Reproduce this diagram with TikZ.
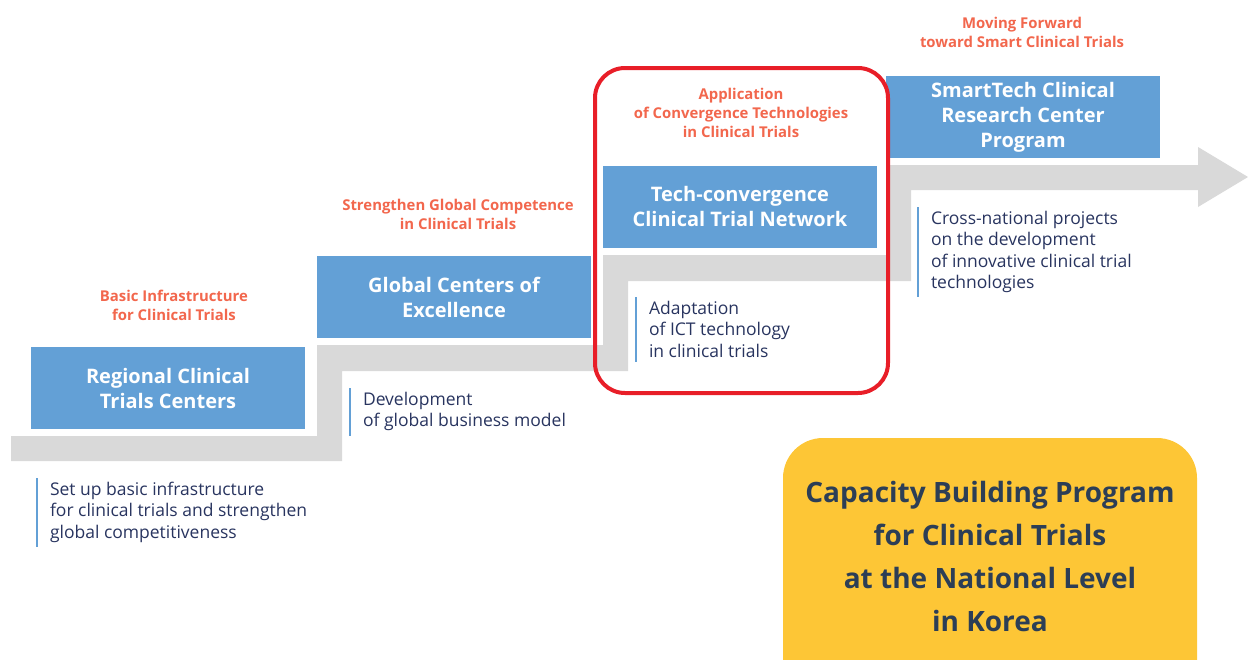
\documentclass[tikz,border=0pt]{standalone}
\usepackage{fontspec}
\setmainfont{Open Sans}
\usepackage{xcolor}
\usetikzlibrary{positioning}

\definecolor{stepblue}{RGB}{99,160,214}
\definecolor{stepgray}{RGB}{217,217,217}
\definecolor{goalred}{RGB}{242,103,77}
\definecolor{descnavy}{RGB}{40,52,95}
\definecolor{boxyellow}{RGB}{253,198,54}
\definecolor{yelltext}{RGB}{44,62,86}
\definecolor{markred}{RGB}{232,30,40}

\begin{document}
\begin{tikzpicture}[x=0.5pt,y=-0.5pt,
	blk/.style={fill=stepblue,text=white,font=\bfseries\fontsize{10}{12.5}\selectfont,align=center,minimum width=137pt,minimum height=41pt,inner sep=0pt},
	goal/.style={text=goalred,font=\bfseries\fontsize{7.45}{9.5}\selectfont,align=center,inner sep=0pt},
	desc/.style={text=descnavy,font=\fontsize{8.75}{10.6}\selectfont,align=left,anchor=north west,inner xsep=6.3pt,inner ysep=2pt},
	bar/.style={draw=stepblue,line width=0.8pt}]
	\useasboundingbox (0,0) rectangle (1248,659);

	% staircase arrow
	\fill[stepgray] (11,436) -- (317,436) -- (317,345) -- (603,345) -- (603,255) -- (886,255) -- (886,165)
		-- (1198,165) -- (1198,147) -- (1248,177) -- (1198,207) -- (1198,190) -- (911,190) -- (911,281)
		-- (628,281) -- (628,371) -- (342,371) -- (342,461) -- (11,461) -- cycle;

	\node[blk] (s1) at (168,388) {Regional Clinical\\Trials Centers};
	\node[blk] (s2) at (454,297) {Global Centers of\\Excellence};
	\node[blk] (s3) at (740,206.5) {Tech-convergence\\Clinical Trial Network};
	\node[blk] (s4) at (1023,117) {SmartTech Clinical\\Research Center\\Program};

	\node[goal] (g1) at (174,305.5) {Basic Infrastructure\\for Clinical Trials};
	\node[goal] (g2) at (458,214.5) {Strengthen Global Competence\\in Clinical Trials};
	\node[goal] (g3) at (741,113) {Application\\of Convergence Technologies\\in Clinical Trials};
	\node[goal] (g4) at (1022,32.5) {Moving Forward\\toward Smart Clinical Trials};

	\node[desc] (d1) at (37,478) {Set up basic infrastructure\\for clinical trials and strengthen\\global competitiveness};
	\node[desc] (d2) at (350,388) {Development\\of global business model};
	\node[desc] (d3) at (636,297) {Adaptation\\of ICT technology\\in clinical trials};
	\node[desc] (d4) at (918,207) {Cross-national projects\\on the development\\of innovative clinical trial\\technologies};
	\foreach \d in {d1,d2,d3,d4}
		\draw[bar] (\d.north west) -- (\d.south west);

	\draw[markred,line width=2pt,rounded corners=15pt] (595,68) rectangle (888,393);

	\fill[boxyellow,rounded corners=20pt] (783,438) rectangle (1197,700);
	\node[text=yelltext,font=\bfseries\fontsize{14}{21.5}\selectfont,align=center] (prog) at (990,556)
		{Capacity Building Program\\for Clinical Trials\\at the National Level\\in Korea};
\end{tikzpicture}
\end{document}
